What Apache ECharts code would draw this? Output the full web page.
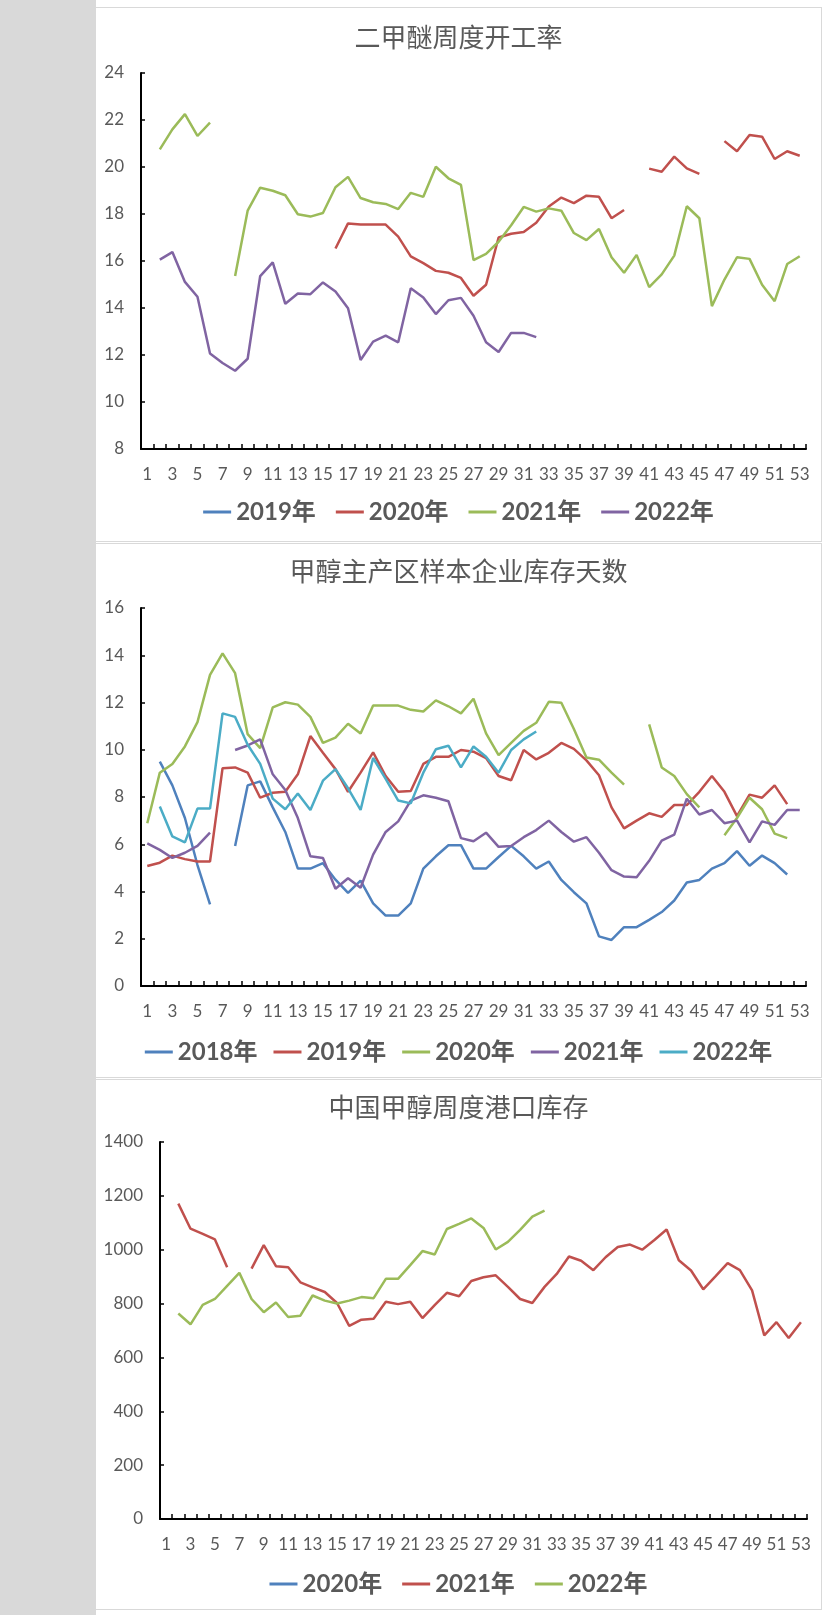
<!DOCTYPE html>
<html lang="zh">
<head>
    <meta charset="UTF-8">
    <title>二甲醚 / 甲醇 周度数据</title>
    <script src="https://cdn.jsdelivr.net/npm/echarts@6/dist/echarts.min.js"></script>
    <style>
        body { margin: 0; width: 838px; height: 1615px; background: #fff; position: relative; overflow: hidden; }
        #strip { position: absolute; left: 0; top: 0; width: 96px; height: 1615px; background: #d9d9d9; }
        .panel { position: absolute; left: 96px; width: 725px; border-top: 1px solid #d9d9d9; border-right: 1px solid #d9d9d9; border-bottom: 1px solid #d9d9d9; background: #fff; }
    </style>
</head>
<body>
<div id="strip"></div>
<div class="panel" id="c1" style="top:7px;height:533px;"></div>
<div class="panel" id="c2" style="top:543px;height:533px;"></div>
<div class="panel" id="c3" style="top:1079px;height:529px;"></div>
<script>
    // 周次
    var weeks = ['1','2','3','4','5','6','7','8','9','10','11','12','13','14','15','16','17','18',
        '19','20','21','22','23','24','25','26','27','28','29','30','31','32','33','34','35','36',
        '37','38','39','40','41','42','43','44','45','46','47','48','49','50','51','52','53'];

    // 二甲醚周度开工率
    var dme2019 = [];
    var dme2020 = [null,null,null,null,null,null,null,null,null,null,null,null,null,null,null,
        16.53,17.6,17.55,17.55,17.55,17.04,16.2,15.91,15.58,15.5,15.28,14.52,14.99,17.0,17.16,
        17.23,17.63,18.32,18.7,18.46,18.78,18.73,17.82,18.17,null,19.93,19.8,20.44,19.94,19.71,
        null,21.1,20.67,21.36,21.29,20.34,20.67,20.48];
    var dme2021 = [null,20.75,21.6,22.25,21.32,21.89,null,15.36,18.14,19.12,18.99,18.8,17.99,
        17.89,18.04,19.14,19.58,18.68,18.5,18.43,18.21,18.9,18.73,20.01,19.52,19.24,16.04,16.3,
        16.82,17.52,18.3,18.1,18.24,18.14,17.19,16.89,17.36,16.16,15.5,16.26,14.89,15.43,16.23,
        18.33,17.82,14.08,15.21,16.16,16.09,14.99,14.29,15.87,16.2];
    var dme2022 = [null,16.06,16.38,15.11,14.48,12.06,11.66,11.33,11.84,15.36,15.94,14.18,14.62,
        14.59,15.09,14.7,13.99,11.79,12.57,12.82,12.54,14.84,14.45,13.74,14.33,14.43,13.67,12.54,
        12.13,12.94,12.94,12.76];

    // 甲醇主产区样本企业库存天数
    var days2018 = [null,9.5,8.49,7.11,5.12,3.45,null,5.93,8.49,8.66,7.56,6.52,4.97,4.97,5.2,
        4.5,3.94,4.46,3.5,2.98,2.98,3.5,4.97,5.49,5.96,5.96,4.97,4.97,5.46,5.93,5.49,4.97,5.27,
        4.49,3.97,3.5,2.1,1.95,2.49,2.49,2.8,3.13,3.62,4.38,4.49,4.97,5.2,5.71,5.09,5.52,5.2,4.72];
    var days2019 = [5.08,5.22,5.52,5.37,5.27,5.27,9.22,9.25,9.03,7.97,8.18,8.22,8.96,10.58,9.87,
        9.18,8.22,9.03,9.89,8.89,8.22,8.25,9.4,9.7,9.7,9.99,9.92,9.65,8.89,8.71,9.99,9.59,9.87,
        10.29,10.04,9.55,8.92,7.56,6.67,7.0,7.31,7.16,7.66,7.66,8.22,8.89,8.22,7.19,8.1,7.97,
        8.49,7.7];
    var days2020 = [6.89,9.03,9.4,10.14,11.17,13.17,14.08,13.24,10.66,10.07,11.79,12.01,11.91,
        11.39,10.29,10.51,11.1,10.69,11.87,11.87,11.87,11.69,11.62,12.09,11.84,11.54,12.16,10.69,
        9.77,10.29,10.8,11.14,12.03,11.99,10.88,9.67,9.58,9.03,8.52,null,11.07,9.25,8.89,8.12,
        7.56,null,6.38,7.11,7.97,7.48,6.45,6.26];
    var days2021 = [6.04,5.76,5.42,5.64,5.93,6.49,null,9.99,10.18,10.44,8.96,8.3,7.11,5.49,5.42,
        4.12,4.56,4.16,5.56,6.52,6.97,7.85,8.07,7.97,7.82,6.26,6.13,6.49,5.89,5.93,6.3,6.6,7.0,
        6.52,6.11,6.3,5.64,4.9,4.63,4.6,5.3,6.15,6.41,7.93,7.26,7.45,6.89,7.0,6.08,6.97,6.82,
        7.45,7.45];
    var days2022 = [null,7.6,6.33,6.08,7.51,7.51,11.54,11.39,10.21,9.4,7.93,7.48,8.15,7.45,8.69,
        9.18,8.37,7.45,9.65,8.77,7.85,7.73,9.03,10.02,10.17,9.25,10.14,9.7,9.03,9.99,10.44,10.77];

    // 中国甲醇周度港口库存
    var port2020 = [];
    var port2021 = [null,1171,1078,1059,1038,935,null,930,1017,939,935,879,860,843,802,717,740,
        744,807,798,807,746,794,840,827,884,898,905,862,817,802,862,910,975,959,924,972,1010,
        1019,1000,1036,1075,961,923,853,901,950,924,849,682,731,672,731];
    var port2022 = [null,763,723,795,817,866,914,817,768,804,750,755,830,811,800,811,824,820,
        892,892,943,995,982,1077,1096,1116,1081,1001,1029,1074,1123,1145];

    var BLUE = '#4F81BD', RED = '#C0504D', GREEN = '#9BBB59', PURPLE = '#8064A2', CYAN = '#4BACC6';
    var NUM_FONT = "Lato, 'Noto Sans CJK SC', sans-serif";

    function makeOption(cfg) {
        var series = cfg.lines.map(function (s) {
            return {
                name: s.name,
                type: 'line',
                data: s.data,
                symbol: 'none',
                connectNulls: false,
                color: s.color,
                lineStyle: { width: 2.5, color: s.color }
            };
        });
        return {
            animation: false,
            title: {
                text: cfg.title,
                left: 'center',
                top: cfg.titleTop,
                textStyle: { fontSize: 26, fontWeight: 'normal', color: '#595959', fontFamily: "'Noto Sans CJK SC', sans-serif" }
            },
            legend: {
                top: cfg.legendTop,
                left: 'center',
                icon: 'rect',
                itemWidth: 28,
                itemHeight: 3,
                itemGap: cfg.legendGap,
                textStyle: { fontSize: 24, fontWeight: 'bold', color: '#595959', fontFamily: NUM_FONT },
                data: cfg.lines.map(function (s) { return s.name; })
            },
            grid: cfg.grid,
            xAxis: {
                type: 'category',
                data: weeks,
                boundaryGap: true,
                axisLine: { lineStyle: { color: '#000', width: 2 } },
                axisTick: { show: true, inside: true, interval: 0, length: 5, lineStyle: { color: '#000', width: 1.5 } },
                axisLabel: { interval: 1, margin: 17, fontSize: 17, color: '#595959', fontFamily: NUM_FONT },
                splitLine: { show: false }
            },
            yAxis: {
                type: 'value',
                min: cfg.min,
                max: cfg.max,
                interval: cfg.interval,
                axisLine: { show: true, lineStyle: { color: '#000', width: 2 } },
                axisTick: { show: true, inside: true, length: 4, lineStyle: { color: '#000', width: 1.5 } },
                axisLabel: {
                    margin: 17, fontSize: 17, color: '#595959', fontFamily: NUM_FONT,
                    formatter: function (v) { return String(v); }
                },
                splitLine: { show: false }
            },
            series: series
        };
    }

    var chart1 = echarts.init(document.getElementById('c1'));
    chart1.setOption(makeOption({
        title: '二甲醚周度开工率',
        titleTop: 11,
        legendTop: 487,
        legendGap: 20,
        grid: { left: 45, top: 65, width: 665, height: 376 },
        min: 8, max: 24, interval: 2,
        lines: [
            { name: '2019年', data: dme2019, color: BLUE },
            { name: '2020年', data: dme2020, color: RED },
            { name: '2021年', data: dme2021, color: GREEN },
            { name: '2022年', data: dme2022, color: PURPLE }
        ]
    }));

    var chart2 = echarts.init(document.getElementById('c2'));
    chart2.setOption(makeOption({
        title: '甲醇主产区样本企业库存天数',
        titleTop: 9,
        legendTop: 491,
        legendGap: 16,
        grid: { left: 45, top: 64, width: 665, height: 378 },
        min: 0, max: 16, interval: 2,
        lines: [
            { name: '2018年', data: days2018, color: BLUE },
            { name: '2019年', data: days2019, color: RED },
            { name: '2020年', data: days2020, color: GREEN },
            { name: '2021年', data: days2021, color: PURPLE },
            { name: '2022年', data: days2022, color: CYAN }
        ]
    }));

    var chart3 = echarts.init(document.getElementById('c3'));
    chart3.setOption(makeOption({
        title: '中国甲醇周度港口库存',
        titleTop: 9,
        legendTop: 487,
        legendGap: 20,
        grid: { left: 64, top: 62, width: 647, height: 377 },
        min: 0, max: 1400, interval: 200,
        lines: [
            { name: '2020年', data: port2020, color: BLUE },
            { name: '2021年', data: port2021, color: RED },
            { name: '2022年', data: port2022, color: GREEN }
        ]
    }));
</script>
</body>
</html>
